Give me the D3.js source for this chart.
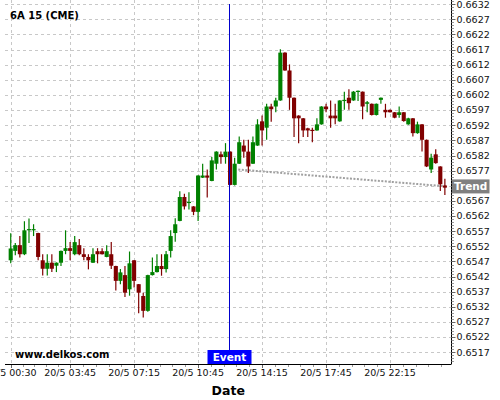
<!DOCTYPE html>
<html><head><meta charset="utf-8">
<script src="https://cdn.jsdelivr.net/npm/d3@7"></script>
<style>body{margin:0;background:#fff}svg{display:block}</style>
</head><body><svg id="c" width="500" height="400"></svg>
<script>
const title = "6A 15 (CME)";
const watermark = "www.delkos.com";
const opens = [0.65474,0.65505,0.65524,0.65494,0.65576,0.65576,0.65564,0.65474,0.65446,0.65466,
0.65456,0.65466,0.65505,0.65514,0.65494,0.65524,0.65494,0.65485,0.65466,0.65504,
0.65504,0.65485,0.65494,0.65455,0.65406,0.65425,0.65378,0.65474,0.65395,0.65356,
0.65307,0.65425,0.65435,0.65455,0.65445,0.65505,0.65564,0.65604,0.65683,0.65666,
0.65652,0.65634,0.65747,0.65754,0.65736,0.65793,0.65824,0.65815,0.65833,0.65723,
0.65793,0.65853,0.65833,0.65793,0.65853,0.65933,0.65912,0.65982,0.65982,0.66002,
0.66160,0.66101,0.66011,0.65952,0.65943,0.65910,0.65905,0.65903,0.65923,0.65982,
0.65952,0.65952,0.65933,0.66002,0.66011,0.66002,0.66031,0.66031,0.65991,0.65991,
0.65954,0.66004,0.65971,0.65971,0.65963,0.65954,0.65963,0.65923,0.65943,0.65894,
0.65923,0.65872,0.65774,0.65824,0.65784,0.65721];
const highs = [0.65563,0.65531,0.65554,0.65603,0.65612,0.65593,0.65565,0.65494,0.65494,0.65494,
0.65467,0.65506,0.65573,0.65534,0.65554,0.65544,0.65514,0.65494,0.65514,0.65514,
0.65514,0.65524,0.65534,0.65456,0.65445,0.65455,0.65503,0.65475,0.65396,0.65367,
0.65426,0.65483,0.65494,0.65494,0.65505,0.65573,0.65613,0.65702,0.65694,0.65699,
0.65653,0.65755,0.65793,0.65774,0.65815,0.65834,0.65833,0.65861,0.65834,0.65813,
0.65883,0.65872,0.65872,0.65883,0.65940,0.65952,0.65991,0.65991,0.66011,0.66171,
0.66161,0.66121,0.66012,0.65953,0.65944,0.65912,0.65912,0.65943,0.65983,0.65991,
0.66002,0.65991,0.66003,0.66031,0.66039,0.66033,0.66035,0.66032,0.66000,0.65992,
0.65992,0.66012,0.65991,0.65972,0.65964,0.65982,0.65964,0.65945,0.65944,0.65932,
0.65924,0.65873,0.65826,0.65841,0.65785,0.65743];
const lows = [0.65464,0.65491,0.65483,0.65491,0.65531,0.65554,0.65474,0.65424,0.65424,0.65435,
0.65435,0.65455,0.65494,0.65474,0.65491,0.65491,0.65474,0.65444,0.65465,0.65464,
0.65493,0.65484,0.65445,0.65374,0.65395,0.65353,0.65357,0.65384,0.65299,0.65285,
0.65304,0.65424,0.65434,0.65423,0.65434,0.65483,0.65535,0.65603,0.65642,0.65642,
0.65623,0.65604,0.65746,0.65681,0.65735,0.65774,0.65793,0.65793,0.65722,0.65721,
0.65792,0.65813,0.65762,0.65792,0.65852,0.65853,0.65872,0.65932,0.65963,0.66001,
0.66100,0.65971,0.65881,0.65861,0.65881,0.65881,0.65864,0.65902,0.65922,0.65963,
0.65912,0.65923,0.65932,0.65971,0.65971,0.66001,0.66000,0.65940,0.65963,0.65952,
0.65952,0.65991,0.65945,0.65962,0.65943,0.65945,0.65932,0.65922,0.65883,0.65892,
0.65833,0.65782,0.65762,0.65793,0.65703,0.65690];
const closes = [0.65513,0.65524,0.65494,0.65573,0.65577,0.65577,0.65485,0.65446,0.65466,0.65446,
0.65466,0.65505,0.65514,0.65505,0.65534,0.65494,0.65485,0.65474,0.65494,0.65494,
0.65494,0.65504,0.65456,0.65406,0.65434,0.65367,0.65464,0.65406,0.65367,0.65307,
0.65425,0.65435,0.65455,0.65445,0.65494,0.65554,0.65593,0.65683,0.65652,0.65667,
0.65634,0.65754,0.65754,0.65747,0.65804,0.65833,0.65815,0.65833,0.65723,0.65793,
0.65864,0.65833,0.65784,0.65864,0.65923,0.65903,0.65982,0.65973,0.66002,0.66160,
0.66101,0.66011,0.65943,0.65943,0.65903,0.65903,0.65903,0.65923,0.65982,0.65973,
0.65943,0.65943,0.66002,0.66004,0.65993,0.66031,0.66034,0.65982,0.65996,0.65954,
0.65991,0.66011,0.65963,0.65963,0.65945,0.65963,0.65934,0.65943,0.65894,0.65923,
0.65872,0.65784,0.65813,0.65795,0.65725,0.65714];
const xTickIndex = [0,13,27,41,55,69,83];
const xTickLabels = ["20/5 00:30","20/5 03:45","20/5 07:15","20/5 10:45","20/5 14:15","20/5 17:45","20/5 22:15"];
const yTickLabels = ["0.6517","0.6522","0.6527","0.6532","0.6537","0.6542","0.6547","0.6552","0.6557","0.6562","0.6567","0.6572","0.6577","0.6582","0.6587","0.6592","0.6597","0.6602","0.6607","0.6612","0.6617","0.6622","0.6627","0.6632"];
const eventIndex = 48;
const eventLabel = "Event";
const trendIndex = [49.8, 95.5];
const trendValues = [0.65774, 0.65718];
const trendLabel = "Trend";
const xTitle = "Date";

(function () {
const pL = 5, pR = 451.5, pT = 0, pB = 364;
const FONT = "DejaVu Sans";
const svg = d3.select("#c");
const x = d3.scaleLinear().domain([-1.25, 96.45]).range([pL, pR]);
const y = d3.scaleLinear().domain([0.6517, 0.6632]).range([352.3, 4.2]);
const step = x(1) - x(0);
const ty = y(trendValues[1]);

// grid
const g = svg.append("g");
yTickLabels.forEach(t => {
  const yy = Math.round(y(+t)) + 0.5;
  g.append("line").attr("x1", pL).attr("x2", pR).attr("y1", yy).attr("y2", yy)
   .attr("stroke", "#c8c8c8").attr("stroke-dasharray", "3,3");
});
xTickIndex.forEach(i => {
  const xx = Math.round(x(i)) + 0.5;
  g.append("line").attr("x1", xx).attr("x2", xx).attr("y1", pT).attr("y2", pB)
   .attr("stroke", "#c8c8c8").attr("stroke-dasharray", "3,3");
});

// trend line
svg.append("path")
  .attr("d", d3.line().x(d => x(d[0])).y(d => y(d[1]))(trendIndex.map((t, k) => [t, trendValues[k]])))
  .attr("fill", "none").attr("stroke", "#a0a0a0").attr("stroke-width", 2).attr("stroke-dasharray", "2,1.5");

// candles
const bw = step * 0.9;
const candles = opens.map((o, i) => ({i, o, h: highs[i], l: lows[i], c: closes[i]}));
const cg = svg.append("g");
candles.forEach(d => {
  const col = d.c >= d.o ? "#008000" : "#800000";
  const cx = x(d.i);
  cg.append("line").attr("x1", cx).attr("x2", cx).attr("y1", y(d.h)).attr("y2", y(d.l))
    .attr("stroke", col).attr("stroke-width", 1.2);
  const yt = y(Math.max(d.o, d.c)), yb = y(Math.min(d.o, d.c));
  cg.append("rect").attr("x", cx - bw / 2).attr("y", yt).attr("width", bw).attr("height", Math.max(1.2, yb - yt))
    .attr("fill", col);
});

// event line
const ex = x(eventIndex);
const exc = Math.floor(ex) - 0.5;
svg.append("line").attr("x1", exc).attr("x2", exc).attr("y1", 4).attr("y2", 350).attr("stroke", "#0000cc").attr("stroke-width", 1);

// axes lines
svg.append("line").attr("x1", pR).attr("x2", pR).attr("y1", pT).attr("y2", pB).attr("stroke", "#000");
svg.append("line").attr("x1", pL).attr("x2", pR).attr("y1", pB + 0.5).attr("y2", pB + 0.5).attr("stroke", "#000");

// y minor ticks
const kLo = Math.ceil(y.invert(pB) * 10000), kHi = Math.floor(y.invert(pT) * 10000);
d3.range(kLo, kHi + 1).forEach(k => {
  const yy = Math.round(y(k / 10000)) + 0.5;
  svg.append("line").attr("x1", pR).attr("x2", pR + 2.5).attr("y1", yy).attr("y2", yy).attr("stroke", "#999");
});
// y major ticks + labels (label hidden where the Trend box covers it, as in the original)
yTickLabels.forEach(t => {
  const yy = Math.round(y(+t)) + 0.5;
  svg.append("line").attr("x1", pR).attr("x2", pR + 4).attr("y1", yy).attr("y2", yy).attr("stroke", "#666");
  if (Math.abs(y(+t) - ty) < 9) return;
  svg.append("text").attr("x", pR + 5).attr("y", y(+t)).attr("dy", "0.35em")
    .attr("font-family", FONT).attr("font-size", "9.5px").attr("fill", "#111").text(t);
});

// x ticks
const minor = [];
for (let j = 0; j < xTickIndex.length; j++) {
  const a = xTickIndex[j];
  const span = j < xTickIndex.length - 1 ? xTickIndex[j + 1] - a : 14;
  for (let k = 1; k < 5; k++) { const v = a + span * k / 5; if (x(v) < pR) minor.push(v); }
}
minor.forEach(v => {
  const xx = Math.round(x(v)) + 0.5;
  svg.append("line").attr("x1", xx).attr("x2", xx).attr("y1", pB + 1).attr("y2", pB + 3).attr("stroke", "#999");
});
xTickIndex.forEach((i, k) => {
  const xx = Math.round(x(i)) + 0.5;
  svg.append("line").attr("x1", xx).attr("x2", xx).attr("y1", pB + 1).attr("y2", pB + 4).attr("stroke", "#666");
  svg.append("text").attr("x", x(i)).attr("y", 375.5).attr("text-anchor", "middle")
    .attr("font-family", FONT).attr("font-size", "9.5px").attr("fill", "#111").text(xTickLabels[k]);
});

// titles
svg.append("text").attr("x", 10).attr("y", 19).attr("font-family", FONT).attr("font-weight", "bold")
  .attr("font-size", "10px").attr("fill", "#000").text(title);
svg.append("text").attr("x", 15).attr("y", 358).attr("font-family", FONT).attr("font-weight", "bold")
  .attr("font-size", "10px").attr("fill", "#000").text(watermark);
svg.append("text").attr("x", (pL + pR) / 2).attr("y", 395).attr("text-anchor", "middle").attr("font-family", FONT)
  .attr("font-weight", "bold").attr("font-size", "12.5px").attr("fill", "#000").text(xTitle);

// event box
svg.append("rect").attr("x", exc - 22).attr("y", 350).attr("width", 44).attr("height", 14).attr("fill", "#0000ff");
svg.append("text").attr("x", exc).attr("y", 361).attr("text-anchor", "middle").attr("font-family", FONT)
  .attr("font-weight", "bold").attr("font-size", "10.5px").attr("fill", "#fff").text(eventLabel);

// trend box
svg.append("rect").attr("x", pR + 0.5).attr("y", ty - 7).attr("width", 37.5).attr("height", 14).attr("fill", "#808080");
svg.append("text").attr("x", pR + 2.5).attr("y", ty + 4).attr("font-family", FONT)
  .attr("font-weight", "bold").attr("font-size", "10.5px").attr("fill", "#fff").text(trendLabel);
})();
</script></body></html>
